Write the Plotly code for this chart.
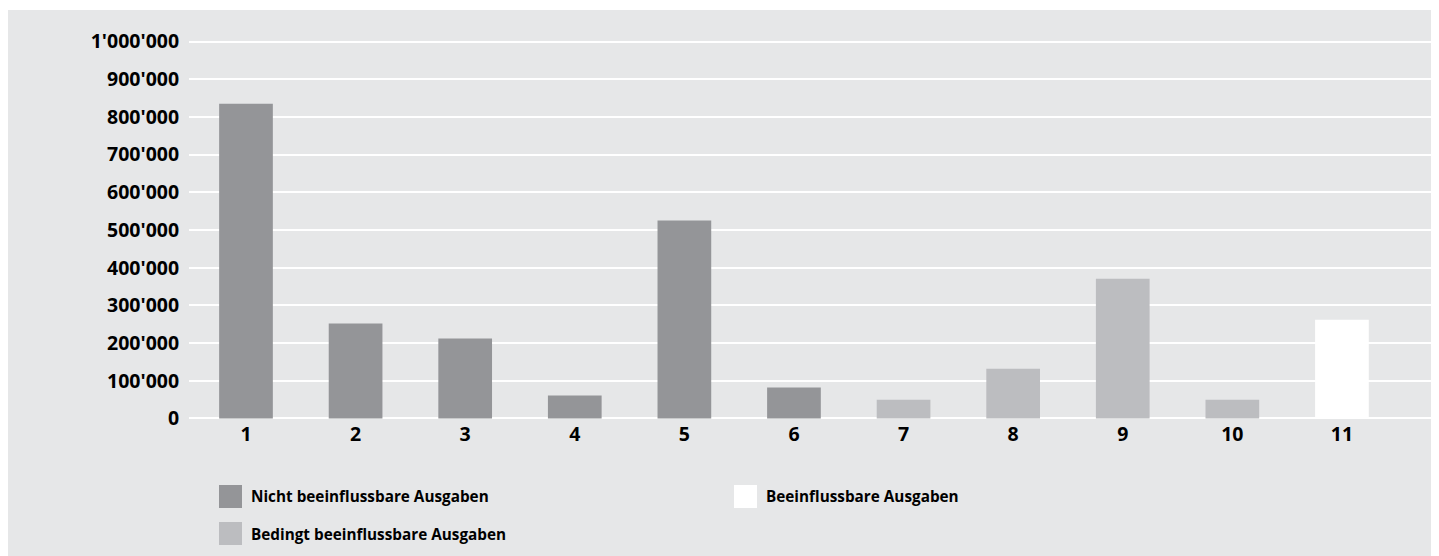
import plotly.graph_objects as go

categories = [1, 2, 3, 4, 5, 6, 7, 8, 9, 10, 11]
values = [835000, 252000, 212000, 61000, 525000, 82000, 50000, 132000, 371000, 50000, 262000]
groups = ["n", "n", "n", "n", "n", "n", "b", "b", "b", "b", "f"]

series_names = {
    "n": "Nicht beeinflussbare Ausgaben",
    "f": "Beeinflussbare Ausgaben",
    "b": "Bedingt beeinflussbare Ausgaben",
}
series_colors = {"n": "#949598", "f": "#ffffff", "b": "#bcbdc0"}

y_tickvals = [0, 100000, 200000, 300000, 400000, 500000, 600000, 700000, 800000, 900000, 1000000]
y_ticktext = ["0", "100'000", "200'000", "300'000", "400'000", "500'000",
              "600'000", "700'000", "800'000", "900'000", "1'000'000"]

FONT = "Open Sans"
BG = "#e6e7e8"

W, H = 1426, 548
ML, MR, MT, MB = 181, 0, 32, 136
PW, PH = W - ML - MR, H - MT - MB


def px_x(x):
    return (x - ML) / PW


def px_y(y):
    return (H - MB - y) / PH


fig = go.Figure()
for key in ["n", "f", "b"]:
    xs = [c for c, g in zip(categories, groups) if g == key]
    ys = [v for v, g in zip(values, groups) if g == key]
    fig.add_trace(go.Bar(
        x=xs, y=ys, name=series_names[key],
        marker=dict(color=series_colors[key], line=dict(width=0)),
        width=0.49, showlegend=False,
    ))

# gray panel
fig.add_shape(type="rect", xref="paper", yref="paper", layer="below",
              x0=px_x(0), x1=px_x(W), y0=px_y(H), y1=px_y(2),
              fillcolor=BG, line=dict(width=0))

# manual legend (figure pixel positions)
legend_items = [("n", 211, 477), ("f", 726, 477), ("b", 211, 514)]
for key, lx, ly in legend_items:
    fig.add_shape(type="rect", xref="paper", yref="paper",
                  x0=px_x(lx), x1=px_x(lx + 23),
                  y0=px_y(ly + 23), y1=px_y(ly),
                  fillcolor=series_colors[key], line=dict(width=0))
    fig.add_annotation(xref="paper", yref="paper",
                       x=px_x(lx + 30), y=px_y(ly + 11.5),
                       xanchor="left", yanchor="middle", showarrow=False,
                       text=series_names[key],
                       font=dict(family=FONT, size=15.3, color="#000000", weight="bold"))

fig.update_layout(
    width=W, height=H,
    margin=dict(l=ML, r=MR, t=MT, b=MB),
    paper_bgcolor="#ffffff",
    plot_bgcolor=BG,
    barmode="overlay",
    showlegend=False,
    xaxis=dict(
        range=[0.48, 11.84], tickmode="array", tickvals=categories,
        ticktext=[str(c) for c in categories],
        showgrid=False, zeroline=False, showline=False, ticks="",
        tickfont=dict(family=FONT, size=19.5, color="#000000", weight="bold"),
    ),
    yaxis=dict(
        range=[-4000, 1004000], tickmode="array", tickvals=y_tickvals, ticktext=y_ticktext,
        showgrid=True, gridcolor="#ffffff", gridwidth=2,
        zeroline=True, zerolinecolor="#ffffff", zerolinewidth=2,
        showline=False, ticks="outside", ticklen=5, tickcolor="rgba(0,0,0,0)",
        tickfont=dict(family=FONT, size=19.5, color="#000000", weight="bold"),
    ),
)

fig.write_html("out.html")
